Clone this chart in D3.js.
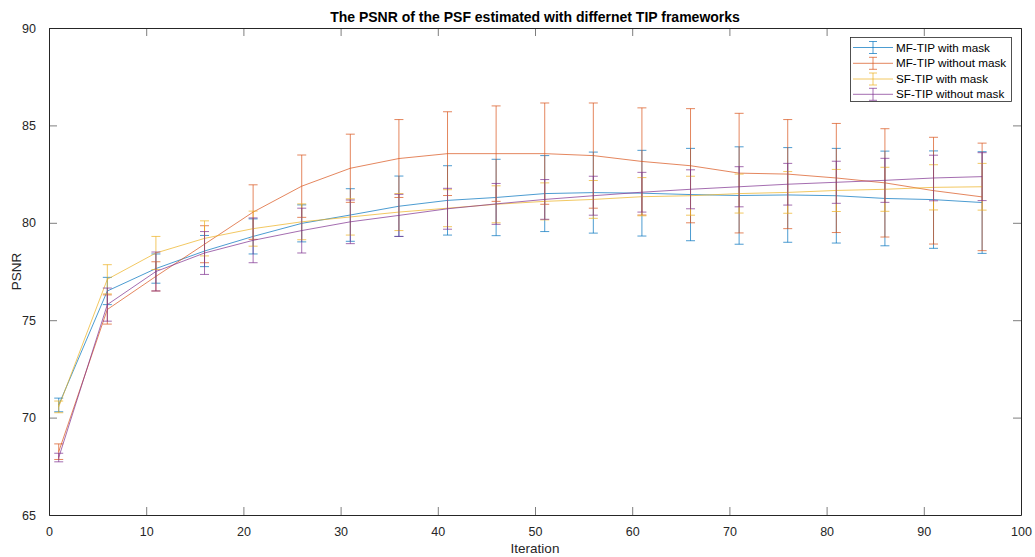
<!DOCTYPE html>
<html><head><meta charset="utf-8">
<script src="https://cdn.jsdelivr.net/npm/d3@7"></script>
<style>body{margin:0;background:#fff}svg{display:block}text{font-family:"Liberation Sans",Arial,Helvetica,sans-serif}</style>
</head><body>
<svg id="c" width="1035" height="557"></svg>
<script>
const iterations = [1,6,11,16,21,26,31,36,41,46,51,56,61,66,71,76,81,86,91,96];
const seriesNames = ["MF-TIP with mask","MF-TIP without mask","SF-TIP with mask","SF-TIP without mask"];
const mfMaskMean = [70.65,76.5,77.65,78.55,79.3,79.97,80.4,80.85,81.15,81.3,81.5,81.55,81.52,81.45,81.4,81.43,81.39,81.25,81.19,81.04];
const mfMaskErr  = [0.35,0.7,0.75,0.8,0.9,0.95,1.35,1.55,1.78,1.96,1.95,2.08,2.2,2.37,2.5,2.43,2.43,2.43,2.5,2.61];
const mfNoMaskMean = [68.25,75.55,77.25,78.9,80.55,81.88,82.8,83.3,83.55,83.55,83.55,83.45,83.15,82.93,82.55,82.5,82.3,82.05,81.65,81.33];
const mfNoMaskErr  = [0.4,0.75,0.75,0.95,1.4,1.6,1.75,2.0,2.15,2.45,2.6,2.7,2.75,2.93,3.07,2.8,2.8,2.78,2.74,2.76];
const sfMaskMean = [70.55,77.1,78.45,79.2,79.7,80.05,80.3,80.55,80.75,80.95,81.1,81.2,81.34,81.39,81.5,81.56,81.66,81.72,81.82,81.85];
const sfMaskErr  = [0.3,0.75,0.85,0.9,0.9,0.92,0.93,0.95,0.95,0.95,0.95,0.97,0.98,1.0,1.0,1.07,1.08,1.13,1.16,1.2];
const sfNoMaskMean = [67.95,75.8,77.5,78.45,79.1,79.6,80.05,80.38,80.72,80.97,81.2,81.39,81.57,81.72,81.85,81.98,82.08,82.18,82.3,82.37];
const sfNoMaskErr  = [0.22,0.85,1.0,1.1,1.15,1.15,1.12,1.08,1.05,1.05,1.02,1.0,1.02,1.0,1.03,1.07,1.08,1.13,1.17,1.23];
const xTicks = [0,10,20,30,40,50,60,70,80,90,100];
const yTicks = [65,70,75,80,85,90];
const colors = ["#0072BD","#D95319","#EDB120","#7E2F8E"];

const means = [mfMaskMean,mfNoMaskMean,sfMaskMean,sfNoMaskMean];
const errs = [mfMaskErr,mfNoMaskErr,sfMaskErr,sfNoMaskErr];

const svg = d3.select("#c");
const L=49, R=1021, T=28, B=515;
const x = d3.scaleLinear().domain([0,100]).range([L,R]);
const y = d3.scaleLinear().domain([65,90]).range([B,T]);
const axCol = "#262626";

const fontSize = "12.5px";
const gx = svg.append("g").attr("transform",`translate(0,${B})`)
  .call(d3.axisBottom(x).tickValues(xTicks).tickSize(-8).tickPadding(12).tickSizeOuter(0));
const gxt = svg.append("g").attr("transform",`translate(0,${T})`)
  .call(d3.axisTop(x).tickValues(xTicks).tickSize(-8).tickFormat("").tickSizeOuter(0));
const gy = svg.append("g").attr("transform",`translate(${L},0)`)
  .call(d3.axisLeft(y).tickValues(yTicks).tickSize(-8).tickPadding(13).tickSizeOuter(0));
const gyr = svg.append("g").attr("transform",`translate(${R},0)`)
  .call(d3.axisRight(y).tickValues(yTicks).tickSize(-8).tickFormat("").tickSizeOuter(0));
[gx,gxt,gy,gyr].forEach(g=>{
  g.selectAll("path").attr("stroke",axCol).attr("stroke-width",1);
  g.selectAll("line").attr("stroke",axCol).attr("stroke-width",0.6);
  g.selectAll("text").attr("fill",axCol).style("font-size",fontSize).style("font-family","'Liberation Sans',Arial,sans-serif");
});

const line = d3.line().x((d,i)=>x(iterations[i])).y(d=>y(d));
means.forEach((m,s)=>{
  const g = svg.append("g").attr("stroke",colors[s]).attr("stroke-opacity",0.7).attr("fill","none").attr("stroke-width",1);
  g.append("path").attr("d",line(m));
  m.forEach((v,i)=>{
    const cx = x(iterations[i]);
    const y1 = y(v+errs[s][i]), y2 = y(v-errs[s][i]);
    g.append("line").attr("x1",cx).attr("x2",cx).attr("y1",y1).attr("y2",y2);
    g.append("line").attr("x1",cx-4.5).attr("x2",cx+4.5).attr("y1",y1).attr("y2",y1);
    g.append("line").attr("x1",cx-4.5).attr("x2",cx+4.5).attr("y1",y2).attr("y2",y2);
  });
});

svg.append("text").attr("x",(L+R)/2).attr("y",22).attr("text-anchor","middle")
  .attr("font-weight","bold").style("font-size","14px").attr("fill","#000")
  .text("The PSNR of the PSF estimated with differnet TIP frameworks");
svg.append("text").attr("x",(L+R)/2).attr("y",553).attr("text-anchor","middle")
  .style("font-size","13.5px").attr("fill",axCol).text("Iteration");
svg.append("text").attr("transform",`translate(21,${(T+B)/2}) rotate(-90)`).attr("text-anchor","middle")
  .style("font-size","13.5px").attr("fill",axCol).text("PSNR");

const lg = svg.append("g");
lg.append("rect").attr("x",850.5).attr("y",37.5).attr("width",161).attr("height",64)
  .attr("fill","#fff").attr("stroke",axCol).attr("stroke-width",0.8);
const ly = [47.5,63.3,79,94.3];
seriesNames.forEach((n,s)=>{
  const g = lg.append("g").attr("stroke",colors[s]).attr("stroke-opacity",0.7).attr("stroke-width",1);
  g.append("line").attr("x1",853).attr("x2",893).attr("y1",ly[s]).attr("y2",ly[s]);
  g.append("line").attr("x1",873).attr("x2",873).attr("y1",ly[s]-6).attr("y2",ly[s]+6);
  g.append("line").attr("x1",869).attr("x2",877).attr("y1",ly[s]-6).attr("y2",ly[s]-6);
  g.append("line").attr("x1",869).attr("x2",877).attr("y1",ly[s]+6).attr("y2",ly[s]+6);
  lg.append("text").attr("x",896).attr("y",ly[s]+4).style("font-size","11.7px").attr("fill","#000").text(n);
});
</script>
</body></html>
